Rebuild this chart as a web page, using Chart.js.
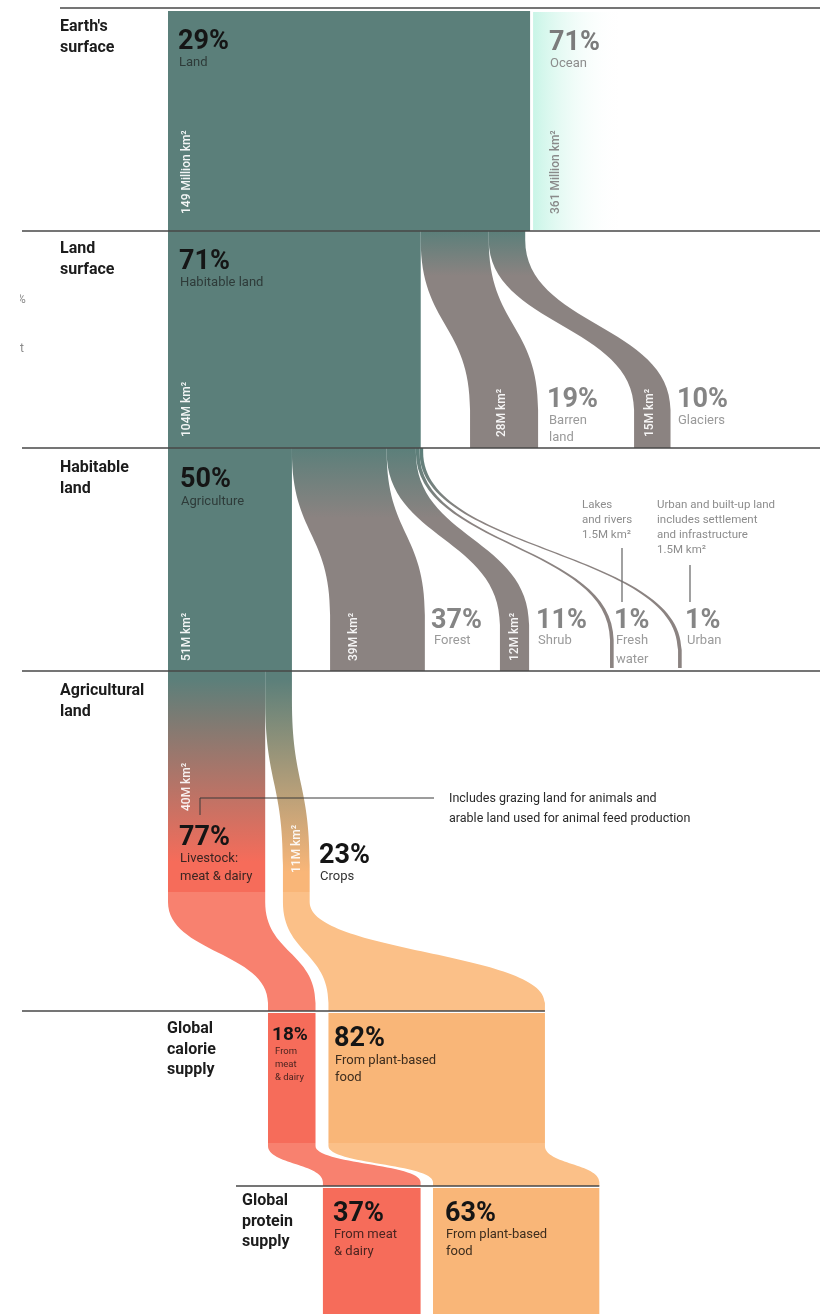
<!DOCTYPE html>
<html>
<head>
<meta charset="utf-8">
<title>Land use for food production</title>
<script src="https://cdn.jsdelivr.net/npm/chart.js@4.4.1/dist/chart.umd.min.js"></script>
<style>
  html, body { margin: 0; padding: 0; background: #fff; }
  #chart { display: block; }
</style>
</head>
<body>
<canvas id="chart" width="832" height="1314"></canvas>
<script>
/* ── data: areas in million km², shares in % ── */
const EARTH_LABELS = ['Land', 'Ocean'];
const EARTH_AREA   = [149, 361];
const EARTH_PCT    = [29, 71];

const LAND_LABELS = ['Habitable land', 'Barren land', 'Glaciers'];
const LAND_AREA   = [104, 28, 15];
const LAND_PCT    = [71, 19, 10];

const HABITABLE_LABELS = ['Agriculture', 'Forest', 'Shrub', 'Fresh water', 'Urban'];
const HABITABLE_AREA   = [51, 39, 12, 1.5, 1.5];
const HABITABLE_PCT    = [50, 37, 11, 1, 1];

const AGRI_LABELS = ['Livestock: meat & dairy', 'Crops'];
const AGRI_AREA   = [40, 11];
const AGRI_PCT    = [77, 23];

const SUPPLY_LABELS = ['From meat & dairy', 'From plant-based food'];
const CALORIE_PCT   = [18, 82];
const PROTEIN_PCT   = [37, 63];

const ROW_LABELS = [
  ["Earth's", 'surface'], ['Land', 'surface'], ['Habitable', 'land'],
  ['Agricultural', 'land'], ['Global', 'calorie', 'supply'], ['Global', 'protein', 'supply'],
];

/* ── layout ── */
const W = 832, H = 1314;
const ORIGIN_PX = 168, KM_PX = 2.43;        // land column origin, px per million km²
const PCT_ORIGIN_PX = 268, PCT_PX = 2.64;   // supply rows origin, px per %
const ROW_Y = [8, 231, 448, 671, 1011, 1186];
// where each child node lands on its stage (axis units)
const LAND_AT      = [0, 124.3, 191.8];
const HABITABLE_AT = [0, 66.7, 136.6, 181.9, 209.9];
const AGRI_AT      = [0, 47.3];
const CALORIE_AT   = [0, 22.9];
const PROTEIN_AT   = [20.8, 62.5];

const TEAL = '#5b7f7a', GREY = '#8b8381', OCEAN = '#c9f5e7';
const RED = '#f66c5a', RED_LT = '#f8816f', ORANGE = '#f9b678', ORANGE_LT = '#fbc088';
const INK = '#151515', MUTED = '#858585', MUTED_LT = '#9a9a9a';

const offsets = arr => arr.map((_, i) => arr.slice(0, i).reduce((a, b) => a + b, 0));

/* ── ribbon: straight, then an S-curve between c0 and c1, then straight ── */
function ribbon(ctx, top, bot, y0, y1, c0, c1, fill) {
  const m = (c1 - c0) / 2;
  ctx.beginPath();
  ctx.moveTo(top[0], y0);
  ctx.lineTo(top[1], y0);
  ctx.lineTo(top[1], c0);
  ctx.bezierCurveTo(top[1], c0 + m, bot[1], c1 - m, bot[1], c1);
  ctx.lineTo(bot[1], y1);
  ctx.lineTo(bot[0], y1);
  ctx.lineTo(bot[0], c1);
  ctx.bezierCurveTo(bot[0], c1 - m, top[0], c0 + m, top[0], c0);
  ctx.closePath();
  ctx.fillStyle = fill;
  ctx.fill();
}

function vgrad(ctx, y0, y1, c0, c1) {
  const g = ctx.createLinearGradient(0, y0, 0, y1);
  g.addColorStop(0, c0);
  g.addColorStop(1, c1);
  return g;
}

function rect(ctx, x0, x1, y0, y1, fill) {
  ctx.fillStyle = fill;
  ctx.fillRect(x0, y0, x1 - x0, y1 - y0);
}

function text(ctx, str, x, y, font, color) {
  ctx.font = font;
  ctx.fillStyle = color;
  ctx.fillText(str, x, y);
}

function vtext(ctx, str, x, y, color) {
  ctx.save();
  ctx.translate(x, y);
  ctx.rotate(-Math.PI / 2);
  text(ctx, str, 0, 0, '500 12px Roboto', color);
  ctx.restore();
}

const PCT_FONT = 'bold 27px Roboto';
const SUB_FONT = '13px Roboto';
const HEAD_FONT = 'bold 16px Roboto';

/* ── drawing plugin ── */
const flows = {
  id: 'flows',
  afterDraw(chart) {
    const { ctx, scales } = chart;
    const X = v => scales.x.getPixelForValue(v);
    const P = v => scales.xp.getPixelForValue(v);
    const Y = v => scales.y.getPixelForValue(v);
    ctx.save();
    ctx.textBaseline = 'alphabetic';

    // Earth's surface
    const ox = X(EARTH_AREA[0]) + 3;
    const og = ctx.createLinearGradient(ox, 0, ox + 85, 0);
    og.addColorStop(0, OCEAN);
    og.addColorStop(1, 'rgba(255,255,255,0)');
    rect(ctx, ox, Math.min(X(EARTH_AREA[0] + EARTH_AREA[1]), W), Y(12), Y(ROW_Y[1] - 1), og);
    rect(ctx, X(0), X(EARTH_AREA[0]), Y(11), Y(ROW_Y[1]), TEAL);

    // Land surface
    const landOff = offsets(LAND_AREA);
    rect(ctx, X(0), X(LAND_AREA[0]), Y(ROW_Y[1]), Y(ROW_Y[2]), TEAL);
    const g2 = vgrad(ctx, Y(ROW_Y[1]), Y(ROW_Y[1] + 45), TEAL, GREY);
    for (let i = 1; i < LAND_AREA.length; i++) {
      ribbon(ctx,
        [X(landOff[i]), X(landOff[i] + LAND_AREA[i])],
        [X(LAND_AT[i]), X(LAND_AT[i] + LAND_AREA[i])],
        Y(ROW_Y[1]), Y(ROW_Y[2]), Y(240), Y(410), g2);
    }

    // Habitable land
    const habOff = offsets(HABITABLE_AREA);
    const habCurve = [null, [452, 615], [452, 625], [452, 640], [452, 650]];
    rect(ctx, X(0), X(HABITABLE_AREA[0]), Y(ROW_Y[2]), Y(ROW_Y[3]), TEAL);
    const g3 = vgrad(ctx, Y(ROW_Y[2]), Y(ROW_Y[2] + 70), TEAL, GREY);
    for (let i = 1; i < HABITABLE_AREA.length; i++) {
      ribbon(ctx,
        [X(habOff[i]), X(habOff[i] + HABITABLE_AREA[i])],
        [X(HABITABLE_AT[i]), X(HABITABLE_AT[i] + HABITABLE_AREA[i])],
        Y(ROW_Y[2]), Y(ROW_Y[3] - (i > 2 ? 3 : 0)), Y(habCurve[i][0]), Y(habCurve[i][1]), g3);
    }

    // Agricultural land
    const agriOff = offsets(AGRI_AREA);
    const agriEnd = 892;
    rect(ctx, X(0), X(AGRI_AREA[0]), Y(ROW_Y[3]), Y(agriEnd),
      vgrad(ctx, Y(ROW_Y[3] + 8), Y(862), TEAL, RED));
    ribbon(ctx,
      [X(agriOff[1]), X(agriOff[1] + AGRI_AREA[1])],
      [X(AGRI_AT[1]), X(AGRI_AT[1] + AGRI_AREA[1])],
      Y(ROW_Y[3]), Y(agriEnd), Y(700), Y(865),
      vgrad(ctx, Y(ROW_Y[3] + 8), Y(872), TEAL, ORANGE));

    // agriculture -> calorie supply
    const calTop = 1013, calEnd = 1143;
    const agriTo = [RED_LT, ORANGE_LT];
    for (let i = 0; i < 2; i++) {
      ribbon(ctx,
        [X(AGRI_AT[i]), X(AGRI_AT[i] + AGRI_AREA[i])],
        [P(CALORIE_AT[i]), P(CALORIE_AT[i] + CALORIE_PCT[i])],
        Y(agriEnd), Y(ROW_Y[4]), Y(902), Y(1003), agriTo[i]);
    }

    // calorie supply -> protein supply
    const protTop = 1188;
    const barFill = [RED, ORANGE];
    for (let i = 0; i < 2; i++) {
      rect(ctx, P(CALORIE_AT[i]), P(CALORIE_AT[i] + CALORIE_PCT[i]), Y(calTop), Y(calEnd), barFill[i]);
      ribbon(ctx,
        [P(CALORIE_AT[i]), P(CALORIE_AT[i] + CALORIE_PCT[i])],
        [P(PROTEIN_AT[i]), P(PROTEIN_AT[i] + PROTEIN_PCT[i])],
        Y(calEnd), Y(ROW_Y[5]), Y(1146), Y(1182), agriTo[i]);
      rect(ctx, P(PROTEIN_AT[i]), P(PROTEIN_AT[i] + PROTEIN_PCT[i]), Y(protTop), Y(H), barFill[i]);
    }

    // stage dividers
    const rowSpan = [[60, 820], [22, 820], [22, 820], [22, 820],
      [22, P(CALORIE_AT[1] + CALORIE_PCT[1])], [236, P(PROTEIN_AT[1] + PROTEIN_PCT[1])]];
    ctx.strokeStyle = '#474747';
    ctx.lineWidth = 1.5;
    ROW_Y.forEach((y, i) => {
      ctx.beginPath();
      ctx.moveTo(rowSpan[i][0], Y(y));
      ctx.lineTo(rowSpan[i][1], Y(y));
      ctx.stroke();
    });

    // callout leaders
    ctx.strokeStyle = '#6f6f6f';
    ctx.lineWidth = 1.3;
    ctx.beginPath();
    ctx.moveTo(622, 548); ctx.lineTo(622, 602);
    ctx.moveTo(690, 565); ctx.lineTo(690, 602);
    ctx.stroke();
    ctx.strokeStyle = '#3a3a3a';
    ctx.lineWidth = 1;
    ctx.beginPath();
    ctx.moveTo(200, 815); ctx.lineTo(200, 798); ctx.lineTo(434, 798);
    ctx.stroke();

    /* ── row headings ── */
    const headAt = [[60, 31], [60, 253], [60, 472], [60, 695], [167, 1033], [242, 1205]];
    ROW_LABELS.forEach((lines, i) => lines.forEach((s, j) =>
      text(ctx, s, headAt[i][0], headAt[i][1] + j * 20.5, HEAD_FONT, '#1c1c1c')));

    // clipped fragments at the page edge
    ctx.save();
    ctx.beginPath();
    ctx.rect(20, 280, 20, 80);
    ctx.clip();
    text(ctx, '%', 17, 303, '12px Roboto', '#8a8a8a');
    text(ctx, 't', 20, 352, '12px Roboto', '#8a8a8a');
    ctx.restore();

    /* ── stage 1 ── */
    text(ctx, EARTH_PCT[0] + '%', 178, 49, PCT_FONT, INK);
    text(ctx, EARTH_LABELS[0], 179, 66, SUB_FONT, '#2e3b39');
    vtext(ctx, EARTH_AREA[0] + ' Million km²', 190, 214, 'rgba(255,255,255,0.92)');
    text(ctx, EARTH_PCT[1] + '%', 549, 50, PCT_FONT, '#7b7b7b');
    text(ctx, EARTH_LABELS[1], 550, 67, SUB_FONT, '#8c8c8c');
    vtext(ctx, EARTH_AREA[1] + ' Million km²', 559, 214, '#8a8a8a');

    /* ── stage 2 ── */
    text(ctx, LAND_PCT[0] + '%', 179, 269, PCT_FONT, INK);
    text(ctx, LAND_LABELS[0], 180, 286, SUB_FONT, '#2e3b39');
    vtext(ctx, LAND_AREA[0] + 'M km²', 190, 437, 'rgba(255,255,255,0.92)');
    vtext(ctx, LAND_AREA[1] + 'M km²', 505, 437, 'rgba(255,255,255,0.92)');
    vtext(ctx, LAND_AREA[2] + 'M km²', 653, 437, 'rgba(255,255,255,0.92)');
    text(ctx, LAND_PCT[1] + '%', 547, 407, PCT_FONT, MUTED);
    text(ctx, 'Barren', 549, 424, SUB_FONT, MUTED_LT);
    text(ctx, 'land', 549, 441, SUB_FONT, MUTED_LT);
    text(ctx, LAND_PCT[2] + '%', 677, 407, PCT_FONT, MUTED);
    text(ctx, LAND_LABELS[2], 678, 424, SUB_FONT, MUTED_LT);

    /* ── stage 3 ── */
    text(ctx, HABITABLE_PCT[0] + '%', 180, 487, PCT_FONT, INK);
    text(ctx, HABITABLE_LABELS[0], 181, 505, SUB_FONT, '#2e3b39');
    vtext(ctx, HABITABLE_AREA[0] + 'M km²', 190, 661, 'rgba(255,255,255,0.92)');
    vtext(ctx, HABITABLE_AREA[1] + 'M km²', 357, 661, 'rgba(255,255,255,0.92)');
    vtext(ctx, HABITABLE_AREA[2] + 'M km²', 518, 661, 'rgba(255,255,255,0.92)');
    text(ctx, HABITABLE_PCT[1] + '%', 431, 628, PCT_FONT, MUTED);
    text(ctx, HABITABLE_LABELS[1], 434, 644, SUB_FONT, MUTED_LT);
    text(ctx, HABITABLE_PCT[2] + '%', 536, 628, PCT_FONT, MUTED);
    text(ctx, HABITABLE_LABELS[2], 538, 644, SUB_FONT, MUTED_LT);
    text(ctx, HABITABLE_PCT[3] + '%', 614, 628, PCT_FONT, MUTED);
    text(ctx, 'Fresh', 616, 644, SUB_FONT, MUTED_LT);
    text(ctx, 'water', 616, 663, SUB_FONT, MUTED_LT);
    text(ctx, HABITABLE_PCT[4] + '%', 685, 628, PCT_FONT, MUTED);
    text(ctx, HABITABLE_LABELS[4], 687, 644, SUB_FONT, MUTED_LT);
    const noteFont = '11.5px Roboto';
    ['Lakes', 'and rivers', HABITABLE_AREA[3] + 'M km²'].forEach((s, j) =>
      text(ctx, s, 582, 508 + j * 15, noteFont, '#8d8d8d'));
    ['Urban and built-up land', 'includes settlement', 'and infrastructure', HABITABLE_AREA[4] + 'M km²']
      .forEach((s, j) => text(ctx, s, 657, 508 + j * 15, noteFont, '#8d8d8d'));

    /* ── stage 4 ── */
    vtext(ctx, AGRI_AREA[0] + 'M km²', 190, 811, 'rgba(255,255,255,0.9)');
    text(ctx, 'Includes grazing land for animals and', 449, 802, '12.5px Roboto', '#2a2a2a');
    text(ctx, 'arable land used for animal feed production', 449, 822, '12.5px Roboto', '#2a2a2a');
    text(ctx, AGRI_PCT[0] + '%', 179, 845, PCT_FONT, INK);
    text(ctx, 'Livestock:', 180, 862, SUB_FONT, '#3b2522');
    text(ctx, 'meat & dairy', 180, 880, SUB_FONT, '#3b2522');
    vtext(ctx, AGRI_AREA[1] + 'M km²', 300, 873, 'rgba(255,255,255,0.9)');
    text(ctx, AGRI_PCT[1] + '%', 319, 863, PCT_FONT, INK);
    text(ctx, AGRI_LABELS[1], 320, 880, SUB_FONT, '#333');

    /* ── supply rows ── */
    text(ctx, CALORIE_PCT[0] + '%', 272, 1040, 'bold 19px Roboto', INK);
    ['From', 'meat', '& dairy'].forEach((s, j) =>
      text(ctx, s, 275, 1054 + j * 13, '9.5px Roboto', '#4a2420'));
    text(ctx, CALORIE_PCT[1] + '%', 334, 1046, PCT_FONT, INK);
    text(ctx, 'From plant-based', 335, 1064, SUB_FONT, '#3d2d1e');
    text(ctx, 'food', 335, 1081, SUB_FONT, '#3d2d1e');

    text(ctx, PROTEIN_PCT[0] + '%', 333, 1221, PCT_FONT, INK);
    text(ctx, 'From meat', 334, 1238, SUB_FONT, '#4a2420');
    text(ctx, '& dairy', 334, 1255, SUB_FONT, '#4a2420');
    text(ctx, PROTEIN_PCT[1] + '%', 445, 1221, PCT_FONT, INK);
    text(ctx, 'From plant-based', 446, 1238, SUB_FONT, '#3d2d1e');
    text(ctx, 'food', 446, 1255, SUB_FONT, '#3d2d1e');

    ctx.restore();
  },
};

/* ── chart: hidden axes act as the coordinate frame ── */
const kmMin = -ORIGIN_PX / KM_PX;
const pctMin = -PCT_ORIGIN_PX / PCT_PX;

new Chart(document.getElementById('chart').getContext('2d'), {
  type: 'scatter',
  data: { datasets: [{ data: [] }] },
  options: {
    responsive: false,
    animation: false,
    events: [],
    layout: { padding: 0 },
    plugins: { legend: { display: false }, tooltip: { enabled: false } },
    scales: {
      x:  { type: 'linear', display: false, min: kmMin, max: kmMin + W / KM_PX },
      xp: { type: 'linear', axis: 'x', position: 'bottom', display: false, min: pctMin, max: pctMin + W / PCT_PX },
      y:  { type: 'linear', display: false, min: 0, max: H, reverse: true },
    },
  },
  plugins: [flows],
});
</script>
</body>
</html>
